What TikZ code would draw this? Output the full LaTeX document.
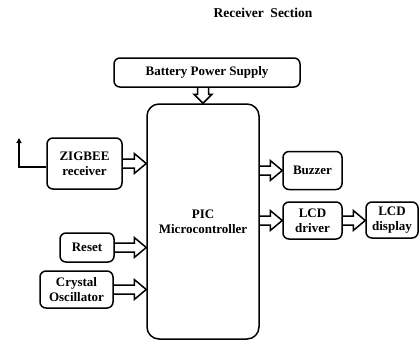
\documentclass[tikz,border=0pt]{standalone}
\usepackage{fontspec}
\setmainfont{Liberation Serif}
\usepackage{tikz}
\usetikzlibrary{
  arrows.meta,
  calc
}
\tikzset{
    block/.style={draw, line width=1.5pt, rounded corners=6pt, align=center, font=\fontsize{13}{15}\selectfont\bfseries, inner sep=1pt},
    hblock/.style={line width=1.5pt, to path={
        let \p1=(\tikztostart), \p2=(\tikztotarget) in
        (\x1,\y1+4.5pt) -- (\x2-12pt,\y1+4.5pt) -- (\x2-12pt,\y1+10pt) -- (\x2,\y1)
        -- (\x2-12pt,\y1-10pt) -- (\x2-12pt,\y1-4.5pt) -- (\x1,\y1-4.5pt)}},
    vblock/.style={line width=1.5pt, to path={
        let \p1=(\tikztostart), \p2=(\tikztotarget) in
        (\x1-5.5pt,\y1) -- (\x1-5.5pt,\y2+9pt) -- (\x1-9pt,\y2+9pt) -- (\x1,\y2)
        -- (\x1+9pt,\y2+9pt) -- (\x1+5.5pt,\y2+9pt) -- (\x1+5.5pt,\y1)}}
}

\begin{document}
\begin{tikzpicture}[x=1pt, y=-1pt]
    \useasboundingbox (0,0) rectangle (419,341);
    % title
    \node[font=\fontsize{13.5}{16}\selectfont\bfseries] (title) at (263,13) {Receiver\ \ Section};
    % blocks
    \node[block, minimum width=186pt, minimum height=29pt] (bat) at (207,72.5) {Battery Power Supply};
    \node[block, rounded corners=12pt, minimum width=112pt, minimum height=235pt] (mcu) at (203,221.5) {PIC\\Microcontroller};
    \node[block, minimum width=75pt, minimum height=51pt] (zig) at (84.5,163.5) {ZIGBEE\\receiver};
    \node[block, minimum width=54pt, minimum height=29pt] (rst) at (87,247.5) {Reset};
    \node[block, minimum width=73pt, minimum height=37pt] (xtal) at (76.5,289.5) {Crystal\\Oscillator};
    \node[block, minimum width=59pt, minimum height=38pt] (buz) at (312.5,170.5) {Buzzer};
    \node[block, minimum width=59pt, minimum height=37pt] (drv) at (312.5,220.5) {LCD\\driver};
    \node[block, minimum width=52pt, minimum height=36pt] (disp) at (392,220) {LCD\\display};
    % antenna
    \coordinate (ant) at (19,138);
    \draw[line width=1.5pt, -{Triangle[length=5pt, width=5pt]}] ([yshift=-3.5pt]zig.west) -| (ant);
    % block arrows
    \draw[vblock] (bat.south -| mcu.north) to (mcu.north);
    \draw[hblock] (zig.east) to (zig.east -| mcu.west);
    \draw[hblock] (rst.east) to (rst.east -| mcu.west);
    \draw[hblock] (xtal.east) to (xtal.east -| mcu.west);
    \draw[hblock] (buz.west -| mcu.east) to (buz.west);
    \draw[hblock] (drv.west -| mcu.east) to (drv.west);
    \draw[hblock] (drv.east) to (disp.west |- drv.east);
\end{tikzpicture}
\end{document}
